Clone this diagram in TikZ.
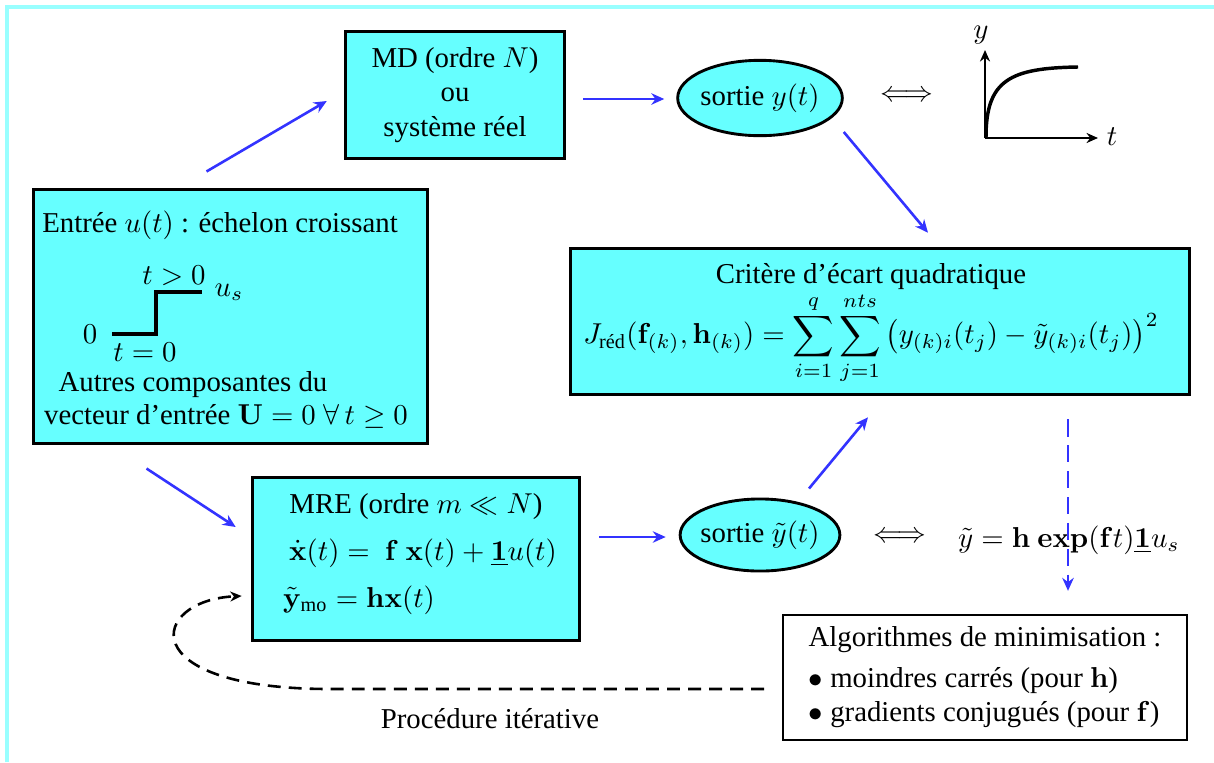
\documentclass[tikz,border=0pt]{standalone}
\usepackage{amsmath,amssymb}
\usepackage[no-math]{fontspec}
\setmainfont{Liberation Serif}
\usepackage{xcolor}
\usepackage{tikz}
\usetikzlibrary{shapes,arrows,positioning,calc,arrows.meta}

\definecolor{boxcyan}{RGB}{102,255,255}
\definecolor{framecyan}{RGB}{153,255,255}
\definecolor{flowblue}{RGB}{51,51,255}

\begin{document}
\begin{tikzpicture}[x=0.0122cm,y=-0.0122cm,
    cbox/.style={draw,line width=1pt,fill=boxcyan,inner sep=0pt},
    cell/.style={draw,line width=1pt,fill=boxcyan,ellipse,inner sep=0pt},
    flow/.style={flowblue,line width=0.9pt,-{Stealth[length=4.5pt,width=4pt]}},
    axis/.style={line width=1pt,-{Stealth[length=4pt,width=3.5pt]}}]
    \useasboundingbox (0,0) rectangle (1214,762);
    % Frame
    \draw[framecyan,line width=1.2pt] (7,762) -- (7,7) -- (1214,7);
    % Input
    \node[cbox,minimum width=4.82cm,minimum height=3.09cm] (inbox) at (230.5,316.5) {};
    \node (intitle) at (220,225) {Entrée $u(t)$ : échelon croissant};
    \draw[line width=1.2pt] (112,334) -- (156,334) -- (156,292) -- (202,292);
    \node (zero) at (90,334) {$0$};
    \node (tpos) at (174,276) {$t>0$};
    \node (us) at (229,292) {$u_s$};
    \node (tnul) at (145,352) {$t=0$};
    \node (autres) at (193,385) {Autres composantes du};
    \node (vect) at (226,416) {vecteur d'entrée $\mathbf{U}=0\;\forall\,t\geq 0$};
    % Detailed model
    \node[cbox,minimum width=2.68cm,minimum height=1.56cm,align=center] (md) at (455,95) {MD (ordre $N$)\\ou\\système réel};
    \node[cell,minimum width=2.01cm,minimum height=0.92cm] (ys) at (760,98) {};
    \node (ystxt) at (760,98) {sortie $y(t)$};
    \node[inner sep=0pt] (eqv1) at (907,96) {$\Longleftrightarrow$};
    % Response curve
    \draw[axis] (985,138) -- (985,50);
    \draw[axis] (985,138) -- (1098,138);
    \node (ylab) at (981,35) {$y$};
    \node (tlab) at (1112,137) {$t$};
    \draw[line width=1.2pt] (986,137) .. controls (986,80) and (1010,68) .. (1078,67);
    % Criterion
    \node[cbox,minimum width=7.56cm,minimum height=1.79cm] (crit) at (880,321.5) {};
    \node[align=center] (crittxt) at (871,324) {Critère d'écart quadratique\\
        $\displaystyle J_{\text{réd}}(\mathbf{f}_{(k)},\mathbf{h}_{(k)}) = \sum_{i=1}^{q}\sum_{j=1}^{nts}\,\bigl(y_{(k)i}(t_j)-\tilde{y}_{(k)i}(t_j)\bigr)^2$};
    % Reduced model
    \node[cbox,minimum width=4.0cm,minimum height=1.98cm] (mre) at (416,559) {};
    \node (mretitle) at (416,507) {MRE (ordre $m \ll N$)};
    \node (mrestate) at (423,553) {$\dot{\mathbf{x}}(t) =\ \mathbf{f}\ \mathbf{x}(t) + \underline{\mathbf{1}}u(t)$};
    \node[anchor=west] (mreout) at (273,600) {$\tilde{\mathbf{y}}_{\text{mo}} = \mathbf{h}\mathbf{x}(t)$};
    \node[cell,minimum width=1.95cm,minimum height=0.88cm] (yt) at (760,535) {};
    \node (yttxt) at (760,535) {sortie $\tilde{y}(t)$};
    \node[inner sep=0pt] (eqv2) at (900,537) {$\Longleftrightarrow$};
    \node[inner sep=1pt] (sol) at (1069,540) {$\tilde{y} = \mathbf{h}\ \mathbf{exp}(\mathbf{f}t)\underline{\mathbf{1}}u_s$};
    % Minimisation
    \node[draw,line width=0.7pt,fill=white,align=left,minimum width=4.93cm,minimum height=1.53cm] (algo) at (985,677.5)
        {Algorithmes de minimisation :\\[2pt] $\bullet$ moindres carrés (pour $\mathbf{h}$)\\ $\bullet$ gradients conjugués (pour $\mathbf{f}$)};
    \node (iter) at (490,719) {Procédure itérative};
    % Arrows
    \draw[flow] ([shift={(-24,-17)}]inbox.north) -- ([shift={(-17,6)}]md.west);
    \draw[flow] ([shift={(17,4)}]md.east) -- ([shift={(-12,1)}]ys.west);
    \draw[flow] ([shift={(0,34)}]ys.east) -- ([shift={(48,-14)}]crit.north);
    \draw[flow] ([shift={(-84,24)}]inbox.south) -- ([shift={(-15,-32)}]mre.west);
    \draw[flow] ([shift={(18,-22)}]mre.east) -- ([shift={(-13,2)}]yt.west);
    \draw[flow] ([shift={(49,-9)}]yt.north) -- ([shift={(-12,21)}]crit.south);
    \draw[flow,dash pattern=on 6pt off 3pt] ([shift={(188,23)}]crit.south) -- ([shift={(83,-23)}]algo.north);
    % Iteration loop
    \coordinate (bend) at (330,689);
    \draw[line width=0.9pt,dash pattern=on 4.5pt off 2.8pt,-{Stealth[length=4pt,width=3.5pt]}]
        ([shift={(-18,11.5)}]algo.west) -- (bend) .. controls (130,689) and (150,600) .. ([shift={(-9,37)}]mre.west);
\end{tikzpicture}
\end{document}
